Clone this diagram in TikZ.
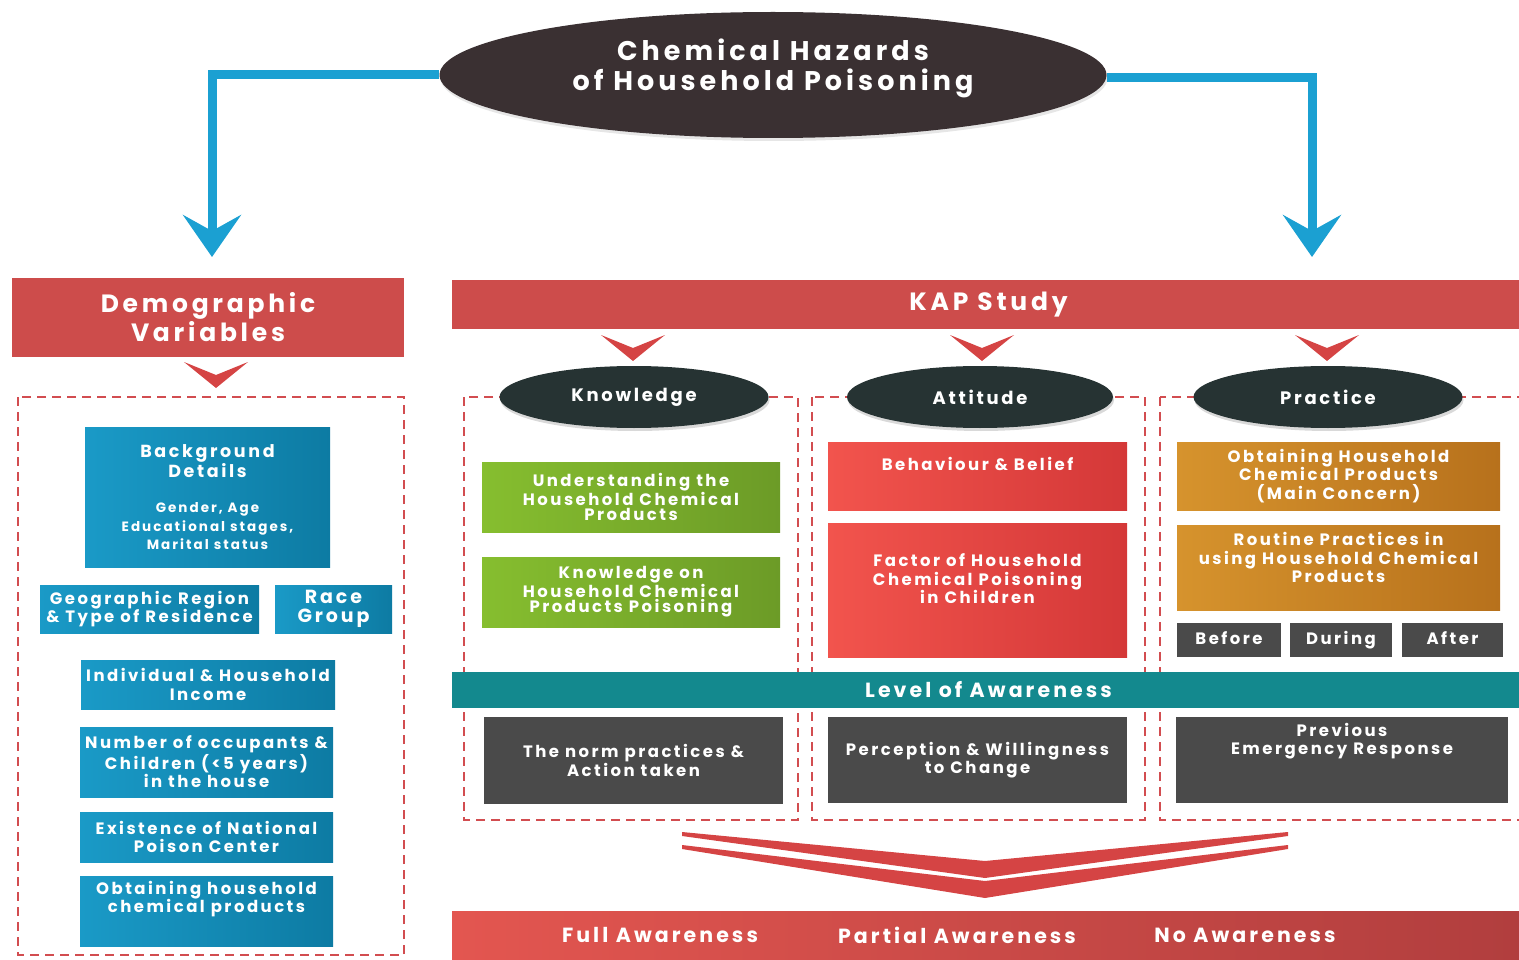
\documentclass[tikz,border=0pt]{standalone}
\usepackage{fontspec}
\setmainfont{Poppins}[LetterSpace=15]
\usepackage{tikz}
\usetikzlibrary{arrows.meta, positioning, shapes.geometric, shadows}

\definecolor{hzdark}{HTML}{3A3032}
\definecolor{arrowblue}{HTML}{1BA0D2}
\definecolor{hdrred}{HTML}{CD4C4B}
\definecolor{chevred}{HTML}{D54444}
\definecolor{dashred}{HTML}{D24D50}
\definecolor{kapdark}{HTML}{263333}
\definecolor{bluelt}{HTML}{1A9AC7}
\definecolor{bluedk}{HTML}{0D7BA3}
\definecolor{greenlt}{HTML}{86BE2F}
\definecolor{greendk}{HTML}{6C9B27}
\definecolor{redlt}{HTML}{F2544D}
\definecolor{reddk}{HTML}{D43838}
\definecolor{orangelt}{HTML}{D6932D}
\definecolor{orangedk}{HTML}{B7711C}
\definecolor{boxgray}{HTML}{4A4A4A}
\definecolor{awteal}{HTML}{13898E}
\definecolor{barlt}{HTML}{E35650}
\definecolor{bardk}{HTML}{B13E3E}

\newcommand{\fsz}[2]{\fontsize{#1}{#2}\selectfont}

\begin{document}
\begin{tikzpicture}[
    x=1pt, y=-1pt,
    txt/.style={text=white, align=center, font=\bfseries\fsz{16.5}{18.5}},
    hdr/.style={rectangle, fill=hdrred, inner sep=0pt, txt, font=\bfseries\fsz{25}{29}},
    oval/.style={ellipse, fill=kapdark, inner sep=0pt, txt, font=\bfseries\fsz{18}{20},
                 drop shadow={shadow xshift=1pt, shadow yshift=-3pt, opacity=0.3}},
    bluebox/.style={rectangle, inner sep=0pt, left color=bluelt, right color=bluedk, txt},
    greenbox/.style={rectangle, inner sep=0pt, left color=greenlt, right color=greendk, txt,
                     font=\bfseries\fsz{16.5}{15.5}},
    redbox/.style={rectangle, inner sep=0pt, left color=redlt, right color=reddk, txt},
    orangebox/.style={rectangle, inner sep=0pt, left color=orangelt, right color=orangedk, txt},
    graybox/.style={rectangle, inner sep=0pt, fill=boxgray, txt},
    dashbox/.style={draw=dashred, line width=2pt, dash pattern=on 9pt off 6pt},
    flow/.style={draw=arrowblue, line width=9pt,
                 -{Stealth[length=42pt, width=58pt, inset=16pt]}},
    bartxt/.style={txt, font=\bfseries\fsz{20.5}{22}},
]
  \useasboundingbox (0,0) rectangle (1519,960);

  % ---- Title and the two blue arrows ----
  \node[ellipse, fill=hzdark, inner sep=0pt, minimum width=667pt, minimum height=126pt,
        drop shadow={shadow xshift=1pt, shadow yshift=-3pt, opacity=0.2}]
    (hz) at (773,75) {};
  \node[txt, font=\bfseries\fsz{27}{30}] (hzt) at ([yshift=7pt]hz.center)
    {Chemical Hazards\\of Household Poisoning};

  \coordinate (la) at (212,257);
  \coordinate (ra) at (1312,257);
  \draw[flow] (hz.west) -| (la);
  \draw[flow] ([yshift=-3pt]hz.east) -| (ra);

  % ---- Headers ----
  \node[hdr, minimum width=392pt, minimum height=79pt] (demo) at (208,317.5)
    {Demographic\\Variables};
  \node[hdr, minimum width=1073pt, minimum height=49pt] (kap) at (988.5,304.5)
    {KAP Study};

  % small chevrons under the headers
  \foreach \cx/\cy in {216/362, 633/335, 982/335, 1327/335} {
    \fill[chevred] (\cx-32,\cy) -- (\cx,\cy+13) -- (\cx+32,\cy) -- (\cx,\cy+26) -- cycle;
  }

  % ---- Dashed frames ----
  \draw[dashbox] (18,397) rectangle (404,955);
  \draw[dashbox] (464,397) rectangle (798,820);
  \draw[dashbox] (812,397) rectangle (1145,820);
  \draw[dashbox] (1160,397) rectangle (1535,820);

  % ---- Demographic variables ----
  \node[bluebox, minimum width=245pt, minimum height=140pt] (bg) at (207.5,497)
    {\fsz{17.5}{17}Background\\\fsz{17.5}{17}Details\\[17pt]
     \fsz{13.5}{18}Gender, Age\\\fsz{13.5}{18}Educational stages,\\\fsz{13.5}{18}Marital status};
  \node[bluebox, minimum width=219pt, minimum height=48pt] (geo) at (149.5,609)
    {Geographic Region\\\& Type of Residence};
  \node[bluebox, minimum width=117pt, minimum height=48pt] (race) at (333.5,609)
    {\fsz{19}{18}Race\\\fsz{19}{18}Group};
  \node[bluebox, minimum width=254pt, minimum height=49pt] (inc) at (208,684.5)
    {Individual \& Household\\Income};
  \node[bluebox, minimum width=253pt, minimum height=70pt] (occ) at (206.5,762)
    {Number of occupants \&\\Children (<5 years)\\in the house};
  \node[bluebox, minimum width=253pt, minimum height=50pt] (npc) at (206.5,837)
    {Existence of National\\Poison Center};
  \node[bluebox, minimum width=253pt, minimum height=70pt] (obt) at (206.5,911) {};
  \node[txt] (obtt) at ([yshift=12pt]obt.center)
    {Obtaining household\\chemical products};

  % ---- Knowledge ----
  \node[oval, minimum width=269pt, minimum height=62pt] (kn) at (634,397) {Knowledge};
  \node[greenbox, minimum width=298pt, minimum height=70pt] (und) at (631,497)
    {Understanding the\\Household Chemical\\Products};
  \node[greenbox, minimum width=298pt, minimum height=70pt] (kpo) at (631,592)
    {Knowledge on\\Household Chemical\\Products Poisoning};

  % ---- Attitude ----
  \node[oval, minimum width=266pt, minimum height=62pt] (at) at (980,397) {Attitude};
  \node[redbox, minimum width=299pt, minimum height=68pt] (beh) at (977.5,476) {};
  \node[txt] (beht) at ([yshift=12pt]beh.center) {Behaviour \& Belief};
  \node[redbox, minimum width=299pt, minimum height=134pt] (fac) at (977.5,590) {};
  \node[txt] (fact) at ([yshift=11pt]fac.center)
    {Factor of Household\\Chemical Poisoning\\in Children};

  % ---- Practice ----
  \node[oval, minimum width=269pt, minimum height=62pt] (pr) at (1328,397) {Practice};
  \node[orangebox, minimum width=323pt, minimum height=68pt] (obh) at (1338.5,476)
    {Obtaining Household\\Chemical Products\\(Main Concern)};
  \node[orangebox, minimum width=323pt, minimum height=85pt] (rou) at (1338.5,567.5) {};
  \node[txt] (rout) at ([yshift=10pt]rou.center)
    {Routine Practices in\\using Household Chemical\\Products};
  \node[graybox, minimum width=104pt, minimum height=34pt, text height=11pt, text depth=2pt]
    (bef) at (1229,640) {Before};
  \node[graybox, minimum width=102pt, minimum height=34pt, text height=11pt, text depth=2pt]
    (dur) at (1341,640) {During};
  \node[graybox, minimum width=101pt, minimum height=34pt, text height=11pt, text depth=2pt]
    (aft) at (1452.5,640) {After};

  % ---- Level of awareness ----
  \node[rectangle, fill=awteal, inner sep=0pt, minimum width=1073pt, minimum height=36pt,
        bartxt] (lev) at (988.5,690) {Level of Awareness};

  \node[graybox, minimum width=299pt, minimum height=87pt] (norm) at (633.5,760.5)
    {The norm practices \&\\Action taken};
  \node[graybox, minimum width=299pt, minimum height=86pt] (per) at (977.5,760)
    {Perception \& Willingness\\to Change};
  \node[graybox, minimum width=332pt, minimum height=86pt] (prev) at (1342,760) {};
  \node[txt] (prevt) at ([yshift=19pt]prev.center) {Previous\\Emergency Response};

  % ---- Big double chevron ----
  \fill[chevred] (682,832) -- (985,861) -- (1288,832) -- (1288,836)
                 -- (985,878) -- (682,836) -- cycle;
  \fill[chevred] (682,845) -- (985,881) -- (1288,845) -- (1288,849)
                 -- (985,898) -- (682,849) -- cycle;

  % ---- Awareness result bar ----
  \node[rectangle, inner sep=0pt, left color=barlt, right color=bardk,
        minimum width=1073pt, minimum height=49pt] (res) at (988.5,935.5) {};
  \node[bartxt] (full) at (660,935) {Full Awareness};
  \node[bartxt] (part) at (957,935) {Partial Awareness};
  \node[bartxt] (none) at (1245,935) {No Awareness};

\end{tikzpicture}
\end{document}
